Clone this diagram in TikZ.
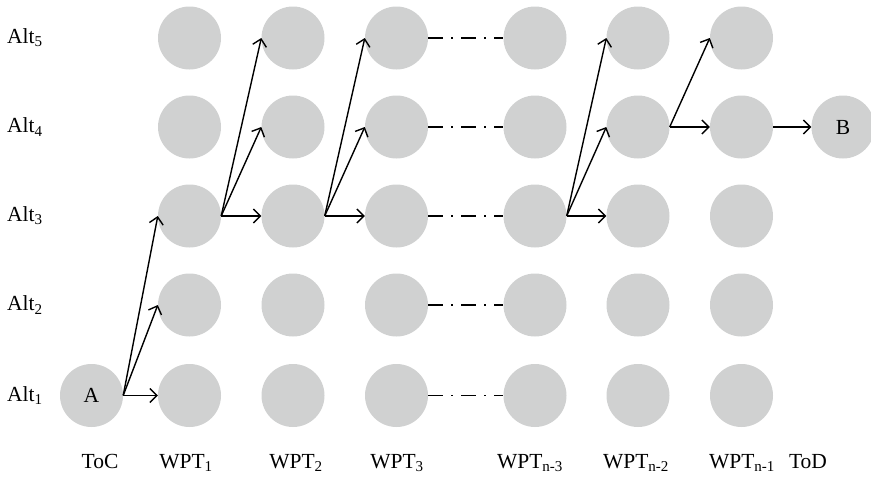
\documentclass[tikz,border=0pt]{standalone}
\usepackage{fontspec}
\setmainfont{Liberation Serif}
\usetikzlibrary{arrows.meta}
\definecolor{dotgray}{RGB}{208,209,209}
\tikzset{
  wp/.style={circle, fill=dotgray, minimum size=63pt, inner sep=0pt, font=\fontsize{21.5}{25}\selectfont},
  lbl/.style={font=\fontsize{21.5}{25}\selectfont, inner sep=0pt},
  arr/.style={line width=1.4pt, -{Straight Barb[length=7pt,width=14pt,line width=1.4pt]}},
  skip/.style={line width=1.4pt, dash pattern=on 15pt off 8pt on 1.5pt off 8.5pt}
}
\begin{document}
\begin{tikzpicture}[x=1pt,y=-1pt]
\useasboundingbox (0,0) rectangle (871,477);
% rows y
\def\ya{395.5}\def\yb{305}\def\yc{216}\def\yd{127}\def\ye{38}
% columns
\node[wp] (A) at (91.5,\ya) {A};
\foreach \c/\x in {1/189.5,2/293,3/396.5,4/535,5/638,6/741.5}{
  \node[wp] (c\c r1) at (\x,\ya) {};
  \node[wp] (c\c r2) at (\x,\yb) {};
  \node[wp] (c\c r3) at (\x,\yc) {};
  \node[wp] (c\c r4) at (\x,\yd) {};
  \node[wp] (c\c r5) at (\x,\ye) {};
}
\node[wp] (B) at (843,\yd) {B};
% row labels
\foreach \r/\y in {1/\ya,2/\yb,3/\yc,4/\yd,5/\ye}{
  \node[lbl, anchor=west] (alt\r) at (7,\y) {Alt\textsubscript{\r}};
}
% column labels
\node[lbl, anchor=base] (l0) at (100,468) {ToC};
\node[lbl, anchor=base] (l1) at (186,468) {WPT\textsubscript{1}};
\node[lbl, anchor=base] (l2) at (296,468) {WPT\textsubscript{2}};
\node[lbl, anchor=base] (l3) at (397,468) {WPT\textsubscript{3}};
\node[lbl, anchor=base] (l4) at (530,468) {WPT\textsubscript{n-3}};
\node[lbl, anchor=base] (l5) at (636,468) {WPT\textsubscript{n-2}};
\node[lbl, anchor=base] (l6) at (742,468) {WPT\textsubscript{n-1}};
\node[lbl, anchor=base] (l7) at (808,468) {ToD};
% arrows
\foreach \t in {1,2,3}{\draw[arr] (A.east) -- (c1r\t.west);}
\foreach \t in {3,4,5}{\draw[arr] (c1r3.east) -- (c2r\t.west);}
\foreach \t in {3,4,5}{\draw[arr] (c2r3.east) -- (c3r\t.west);}
\foreach \t in {3,4,5}{\draw[arr] (c4r3.east) -- (c5r\t.west);}
\foreach \t in {4,5}{\draw[arr] (c5r4.east) -- (c6r\t.west);}
\draw[arr] (c6r4.east) -- (B.west);
% dash-dot skips
\foreach \r in {1,2,3,4,5}{\draw[skip] (c3r\r.east) -- (c4r\r.west);}
\end{tikzpicture}
\end{document}
